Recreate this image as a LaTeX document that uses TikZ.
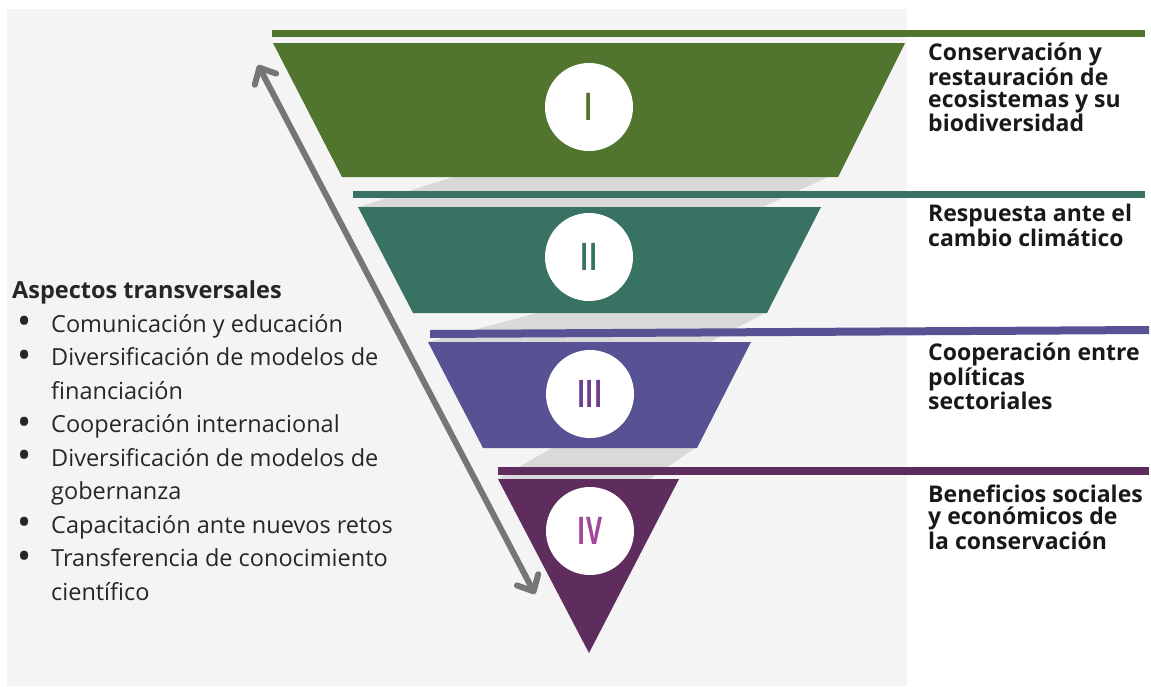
\documentclass[tikz,border=0pt]{standalone}
\usepackage{fontspec}
\setmainfont{Open Sans}
\usetikzlibrary{arrows.meta}

\definecolor{bggray}{HTML}{F4F4F4}
\definecolor{shadegray}{HTML}{D9D9D9}
\definecolor{tierI}{HTML}{51742F}
\definecolor{tierII}{HTML}{387262}
\definecolor{tierIII}{HTML}{575294}
\definecolor{tierIV}{HTML}{5E2D5E}
\definecolor{numIII}{HTML}{6B3D8C}
\definecolor{numIV}{HTML}{A2479B}
\definecolor{arrowgray}{HTML}{767676}

\newcommand{\romnum}[2]{\textcolor{#1}{\scalebox{0.65}[1]{\fontsize{38}{38}\selectfont\bfseries #2}}}
\newcommand{\bul}{\makebox[39pt][l]{\hspace{5pt}\raisebox{-2.5pt}{\scalebox{1.6}{\textbullet}}}}
\newcommand{\cont}{\hspace*{39pt}}

\tikzset{
    numcircle/.style={circle, fill=white, minimum size=88pt, inner sep=0pt},
    tiertext/.style={anchor=base west, inner sep=0pt, align=left,
        font=\fontsize{23}{22}\selectfont\bfseries, text=black!90},
    listtext/.style={anchor=base west, inner sep=0pt, align=left,
        font=\fontsize{23.5}{33.5}\selectfont, text=black!85}
}

\begin{document}
\begin{tikzpicture}[x=1pt, y=-1pt]
    \useasboundingbox (0,0) rectangle (1151,686);
    \fill[bggray] (7,9) rectangle (907,686);

    % shadows between tiers
    \fill[shadegray] (453,177) -- (828,177) -- (763,207) -- (358,207) -- cycle;
    \fill[shadegray] (537,313) -- (765,313) -- (710,342) -- (428,342) -- cycle;
    \fill[shadegray] (552,448) -- (695,448) -- (650,479) -- (498,479) -- cycle;

    % tiers
    \fill[tierI] (273,43) -- (905,43) -- (838,177) -- (342,177) -- cycle;
    \fill[tierII] (358,207) -- (821,207) -- (767,313) -- (413,313) -- cycle;
    \fill[tierIII] (428,342) -- (751,342) -- (697,448) -- (483,448) -- cycle;
    \fill[tierIV] (498,479) -- (679,479) -- (589,653) -- cycle;

    % bars
    \fill[tierI] (272,30) rectangle (1145,37);
    \fill[tierII] (353,191) rectangle (1145,198);
    \fill[tierIII] (430,330) -- (1149,326) -- (1149,334) -- (430,338) -- cycle;
    \fill[tierIV] (498,467) rectangle (1149,475);

    % numerals
    \node[numcircle] (c1) at (589,107) {\romnum{tierI}{I}};
    \node[numcircle] (c2) at (589,257) {\romnum{tierII}{II}};
    \node[numcircle] (c3) at (590,394) {\romnum{numIII}{III}};
    \node[numcircle] (c4) at (590,531) {\romnum{numIV}{IV}};

    % tier labels (placed at the baseline of their last line)
    \node[tiertext] (t1) at (928,131)
        {Conservación y\\restauración de\\ecosistemas y su\\biodiversidad};
    \node[tiertext] (t2) at (928,246) {Respuesta ante el\\cambio climático};
    \node[tiertext] (t3) at (928,409) {Cooperación entre\\políticas\\sectoriales};
    \node[tiertext] (t4) at (928,549)
        {Beneficios sociales\\y económicos de\\la conservación};

    % transversal aspects
    \node[listtext] (aspectos) at (12,600) {\textbf{Aspectos transversales}\\
        \bul Comunicación y educación\\
        \bul Diversificación de modelos de\\
        \cont financiación\\
        \bul Cooperación internacional\\
        \bul Diversificación de modelos de\\
        \cont gobernanza\\
        \bul Capacitación ante nuevos retos\\
        \bul Transferencia de conocimiento\\
        \cont científico};

    % double arrow
    \coordinate (up) at (258,65);
    \coordinate (down) at (535,594);
    \draw[arrowgray, line width=6pt, line cap=round,
        {Straight Barb[length=13pt, width=24pt, round]}-{Straight Barb[length=13pt, width=24pt, round]}]
        (down) -- (up);
\end{tikzpicture}
\end{document}
